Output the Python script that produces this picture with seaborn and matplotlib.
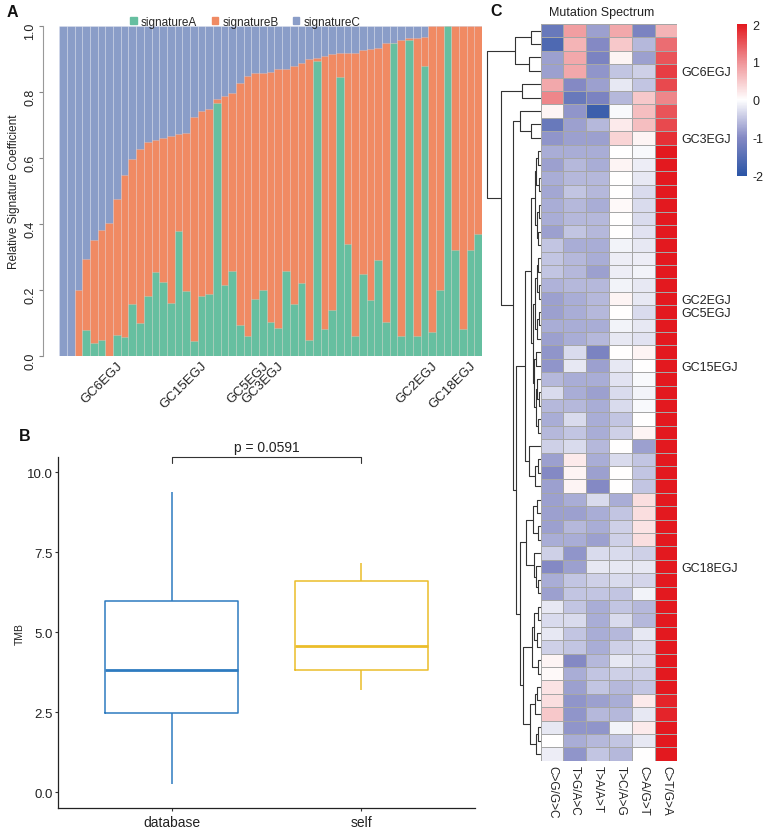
import matplotlib

matplotlib.use("Agg")
import matplotlib.pyplot as plt
import pandas as pd
import seaborn as sns
from matplotlib.colors import LinearSegmentedColormap
from matplotlib.patches import Patch

# ---------------- data ----------------
# panel A: relative signature coefficients per sample (left -> right)
sig_a = [0, 0, 0, 0.078, 0.04, 0.047, 0, 0.065, 0.057, 0.158,
         0.10, 0.183, 0.256, 0.224, 0.161, 0.38, 0.196, 0.044, 0.183, 0.189,
         0.766, 0.216, 0.259, 0.095, 0.062, 0.173, 0.199, 0.103, 0.085, 0.259,
         0.158, 0.221, 0.047, 0.894, 0.083, 0.138, 0.844, 0.34, 0.062, 0.249,
         0.171, 0.291, 0.103, 0.948, 0.06, 0.958, 0.06, 0.879, 0.073, 0.2,
         1.0, 0.322, 0.082, 0.32, 0.37]
sig_b = [0, 0, 0.199, 0.216, 0.313, 0.335, 0.403, 0.411, 0.491, 0.439,
         0.527, 0.464, 0.399, 0.438, 0.506, 0.292, 0.479, 0.679, 0.559, 0.561,
         0.014, 0.572, 0.537, 0.732, 0.785, 0.684, 0.660, 0.758, 0.784, 0.612,
         0.721, 0.666, 0.852, 0.010, 0.826, 0.776, 0.073, 0.579, 0.857, 0.678,
         0.760, 0.643, 0.844, 0.002, 0.898, 0.007, 0.905, 0.089, 0.927, 0.800,
         0.0, 0.678, 0.918, 0.680, 0.630]
sig_c = [1.0, 1.0, 0.801, 0.706, 0.647, 0.618, 0.597, 0.524, 0.452, 0.403,
         0.373, 0.353, 0.345, 0.338, 0.333, 0.328, 0.325, 0.277, 0.258, 0.25,
         0.22, 0.212, 0.204, 0.173, 0.153, 0.143, 0.141, 0.139, 0.131, 0.129,
         0.121, 0.113, 0.101, 0.096, 0.091, 0.086, 0.083, 0.081, 0.081, 0.073,
         0.069, 0.066, 0.053, 0.05, 0.042, 0.035, 0.035, 0.032, 0, 0,
         0, 0, 0, 0, 0]
bar_label_pos = [8, 19, 27, 29, 49, 54]
bar_label_names = ["GC6EGJ", "GC15EGJ", "GC5EGJ", "GC3EGJ", "GC2EGJ", "GC18EGJ"]

# panel B: TMB five-number summaries
tmb_database = [0.26, 2.48, 3.82, 5.99, 9.375]
tmb_self = [3.2, 3.82, 4.56, 6.61, 7.16]
p_text = "p = 0.0591"

# panel C: mutation spectrum z-scores (rows top -> bottom)
spectrum_cols = ["C>G/G>C", "T>G/A>C", "T>A/A>T", "T>C/A>G", "C>A/G>T", "C>T/G>A"]
cg_gc = [-1.3, -1.6, -0.8, -0.8, 0.8, 1.1, 0.1, -1.3, -0.9, -0.7,
         -0.8, -0.7, -0.75, -0.7, -0.7, -0.8, -0.5, -0.5, -0.5, -0.65,
         -0.8, -0.8, -0.7, -0.8, -0.9, -0.9, -0.6, -0.3, -0.6, -0.7,
         -0.6, -0.4, -0.8, -1.0, -0.8, -0.8, -0.8, -0.8, -0.7, -0.4,
         -1.0, -0.7, -0.8, -0.2, -0.3, -0.2, -0.4, 0.1, 0.05, 0.25,
         0.3, 0.5, -0.2, 0.0, -0.15]
tg_ac = [0.9, 0.7, 0.8, 0.8, -1.0, -1.3, -0.9, -0.8, -0.8, -0.7,
         -0.6, -0.6, -0.5, -0.6, -0.6, -0.5, -0.7, -0.6, -0.6, -0.6,
         -0.7, -0.7, -0.7, -0.7, -0.3, -0.2, -0.7, -0.7, -0.6, -0.3,
         -0.5, -0.3, 0.2, 0.1, 0.1, -0.7, -0.8, -0.6, -0.7, -0.9,
         -0.8, -0.5, -0.5, -0.5, -0.3, -0.5, -0.5, -1.0, -0.7, -0.8,
         -0.9, -0.9, -0.9, -0.7, -0.9]
ta_at = [-0.8, -1.0, -1.1, -0.9, -0.8, -1.1, -1.8, -0.6, -0.8, -0.7,
         -0.7, -0.6, -0.6, -0.7, -0.6, -0.6, -0.7, -0.7, -0.8, -0.6,
         -0.6, -0.6, -0.7, -0.6, -1.1, -0.8, -0.7, -0.8, -0.7, -0.7,
         -0.7, -0.6, -0.7, -0.8, -1.0, -0.3, -0.7, -0.7, -0.8, -0.3,
         -0.2, -0.4, -0.5, -0.7, -0.7, -0.7, -0.7, -0.6, -0.5, -0.5,
         -0.8, -0.6, -0.9, -0.6, -0.5]
tc_ag = [0.8, 0.5, 0.1, -0.5, -0.2, -0.6, -0.05, 0.2, 0.4, 0.0,
         0.1, 0.0, 0.0, 0.05, 0.0, 0.0, -0.1, -0.15, -0.15, -0.1,
         0.1, 0.0, -0.1, -0.2, 0.0, -0.2, -0.25, -0.3, -0.3, -0.5,
         -0.4, 0.0, -0.3, 0.0, 0.0, -0.7, -0.5, -0.4, -0.4, -0.3,
         -0.2, -0.3, -0.5, -0.5, -0.3, -0.6, -0.4, -0.2, -0.4, -0.6,
         -0.7, -0.6, -0.1, -0.5, -0.6]
ca_gt = [-1.1, -0.6, -0.8, -0.4, -0.5, 0.5, 0.6, 0.6, 0.1, -0.05,
         -0.15, -0.2, -0.3, -0.3, -0.3, -0.25, -0.2, -0.15, -0.1, -0.2,
         -0.2, -0.3, -0.2, -0.25, 0.1, 0.0, -0.05, -0.1, -0.05, 0.0,
         0.1, -0.8, -0.5, -0.5, -0.5, 0.3, 0.3, 0.25, 0.3, -0.4,
         -0.2, -0.35, -0.1, -0.6, -0.6, -0.2, -0.3, -0.3, -0.4, -0.5,
         0.2, -0.2, 0.2, -0.2, 0.0]
ct_ga = [0.7, 1.3, 1.5, 1.7, 1.6, 1.1, 1.5, 1.6, 1.8, 2.0,
         2.0, 2.0, 2.0, 2.0, 2.0, 2.0, 2.0, 2.0, 2.0, 2.0,
         2.0, 2.0, 2.0, 2.0, 2.0, 2.0, 2.0, 2.0, 2.0, 2.0,
         2.0, 2.0, 2.0, 2.0, 2.0, 2.0, 2.0, 2.0, 2.0, 2.0,
         2.0, 2.0, 2.0, 2.0, 2.0, 2.0, 2.0, 2.0, 2.0, 2.0,
         1.9, 1.9, 2.0, 2.0, 2.0]
row_label_pos = [3, 8, 20, 21, 25, 40]
row_label_names = ["GC6EGJ", "GC3EGJ", "GC2EGJ", "GC5EGJ", "GC15EGJ", "GC18EGJ"]

# row dendrogram: (left, right, height); ints are heatmap rows
tree = (
    ((0, 1, 10.3), (2, 3, 12.0), 26.3),
    ((4, 5, 18.7),
     ((6, (7, 8, 10.3), 21.0),
      (((((((9, 10, 3.0), (11, 12, 2.5), 5.0), ((13, 14, 2.0), (15, 16, 3.0), 4.5), 6.0),
          ((((17, 18, 3.0), (19, 20, 2.0), 4.5), ((21, 22, 2.5), 23, 4.0), 6.5),
           ((24, 25, 5.0), ((26, (27, 28, 2.5), 4.0), (29, 30, 3.5), 5.5), 7.0), 8.5), 10.3),
         (31, ((32, 33, 3.0), 34, 6.0), 12.0), 16.3),
        ((((35, 36, 4.0), (37, 38, 3.0), 8.0), (39, (40, (41, 42, 3.0), 5.0), 7.0), 15.3),
         ((((43, 44, 3.5), (45, 46, 4.0), 7.0), (47, 48, 3.5), 9.0),
          (((49, 50, 4.0), 51, 6.0), ((52, 53, 3.5), 54, 5.0), 11.0), 17.7), 21.0), 25.3)),
      27.7), 39.7),
    53.7)

# ---------------- style ----------------
sns.set_theme(style="ticks")
plt.rcParams["font.family"] = ["Liberation Sans", "DejaVu Sans"]
plt.rcParams["axes.unicode_minus"] = False
TEXT = "#222222"
SIG_COLORS = ["#66BFA0", "#F08A63", "#8A9DC8"]
BOX_COLORS = ["#2E7BC0", "#EBBD2A"]

W, H = 767, 829
fig = plt.figure(figsize=(W / 100, H / 100), dpi=100)


def px_rect(x0, y0, x1, y1):
    return [x0 / W, 1 - y1 / H, (x1 - x0) / W, (y1 - y0) / H]


# ---------------- panel A ----------------
ax_a = fig.add_axes(px_rect(59.3, 27, 482, 357))
samples = [f"s{i:02d}" for i in range(len(sig_a))]
sig_df = pd.DataFrame({"sample": samples, "A": sig_a, "B": sig_b, "C": sig_c})
sig_df["AB"] = sig_df["A"] + sig_df["B"]
sig_df["ABC"] = sig_df["AB"] + sig_df["C"]
for col, color in zip(["ABC", "AB", "A"], SIG_COLORS[::-1]):
    sns.barplot(data=sig_df, x="sample", y=col, color=color, width=1.0, saturation=1,
                edgecolor=(1, 1, 1, 0.35), linewidth=0.4, ax=ax_a)
ax_a.set_xlim(-0.5, len(samples) - 0.5)
ax_a.set_ylim(0, 1)
ax_a.set_xlabel("")
ax_a.set_ylabel("Relative Signature Coefficient", fontsize=8.5, color=TEXT)
ax_a.yaxis.set_label_coords(-0.092, 0.5)
ax_a.set_yticks([0, 0.2, 0.4, 0.6, 0.8, 1.0], ["0.0", "0.2", "0.4", "0.6", "0.8", "1.0"])
ax_a.tick_params(axis="y", labelrotation=90, length=3, width=0.8, color="#888888",
                 labelsize=9, labelcolor=TEXT, pad=2)
for lab in ax_a.get_yticklabels():
    lab.set_va("center")
ax_a.set_xticks(bar_label_pos, bar_label_names, rotation=45, ha="right", fontsize=9.5, color=TEXT)
ax_a.tick_params(axis="x", length=0, pad=2)
for side in ("top", "right", "bottom"):
    ax_a.spines[side].set_visible(False)
ax_a.spines["left"].set_position(("outward", 11.5))
ax_a.spines["left"].set_color("#999999")
ax_a.spines["left"].set_linewidth(0.8)
handles = [Patch(color=c) for c in SIG_COLORS]
ax_a.legend(handles, ["signatureA", "signatureB", "signatureC"], loc="lower center",
            bbox_to_anchor=(0.44, 0.99), ncol=3, frameon=False, fontsize=8.5,
            handlelength=0.55, handleheight=0.55, handletextpad=0.35, columnspacing=1.2,
            borderaxespad=0, borderpad=0.1)

# ---------------- panel B ----------------
ax_b = fig.add_axes(px_rect(58, 458.3, 475, 809.3))
tmb_df = pd.DataFrame({
    "group": ["database"] * len(tmb_database) + ["self"] * len(tmb_self),
    "TMB": tmb_database + tmb_self,
})
sns.boxplot(data=tmb_df, x="group", y="TMB", hue="group", palette=BOX_COLORS, fill=False,
            width=0.7, linewidth=1.1, showcaps=False, whis=1.5, legend=False, ax=ax_b,
            medianprops={"linewidth": 2.0})
ax_b.set_xlim(-0.6, 1.6)
ax_b.set_ylim(-0.5, 10.47)
ax_b.set_yticks([0, 2.5, 5, 7.5, 10], ["0.0", "2.5", "5.0", "7.5", "10.0"])
ax_b.set_xlabel("")
ax_b.set_ylabel("TMB", fontsize=7.5, color=TEXT, labelpad=2)
ax_b.tick_params(axis="both", length=2.5, width=0.8, color="#333333", labelcolor=TEXT)
ax_b.tick_params(axis="y", labelsize=9.5, pad=1)
ax_b.tick_params(axis="x", labelsize=10, pad=2)
for side in ("top", "right"):
    ax_b.spines[side].set_visible(False)
for side in ("left", "bottom"):
    ax_b.spines[side].set_color("#222222")
    ax_b.spines[side].set_linewidth(0.9)
ax_b.plot([0, 0, 1, 1], [10.29, 10.47, 10.47, 10.29], color="#333333", lw=0.8, clip_on=False)
ax_b.text(0.5, 10.57, p_text, ha="center", va="bottom", fontsize=10, color=TEXT)

# ---------------- panel C ----------------
HM_TOP, HM_BOTTOM = 25, 761.7
ax_hm = fig.add_axes(px_rect(540.7, HM_TOP, 677.3, HM_BOTTOM))
cax = fig.add_axes(px_rect(736.7, 25, 746.7, 176.7))
spec_df = pd.DataFrame(dict(zip(spectrum_cols, [cg_gc, tg_ac, ta_at, tc_ag, ca_gt, ct_ga])))
row_labels = [""] * len(spec_df)
for pos, name in zip(row_label_pos, row_label_names):
    row_labels[pos] = name
cmap = LinearSegmentedColormap.from_list(
    "spectrum", ["#2B55A6", "#8489C4", "#FFFFFF", "#EF9397", "#E3191F"])
sns.heatmap(spec_df, ax=ax_hm, cbar_ax=cax, cmap=cmap, vmin=-2, vmax=2, linewidths=0.6,
            linecolor="#A6A6A6", xticklabels=spectrum_cols, yticklabels=row_labels)
ax_hm.yaxis.tick_right()
ax_hm.tick_params(axis="y", length=0, pad=3, labelsize=9, labelrotation=0, labelcolor=TEXT)
ax_hm.tick_params(axis="x", length=0, pad=3, labelsize=8.5, labelrotation=270, labelcolor=TEXT)
ax_hm.set_xlabel("")
ax_hm.set_ylabel("")
cbar = ax_hm.collections[0].colorbar
cbar.outline.set_visible(False)
cbar.set_ticks([-2, -1, 0, 1, 2])
cax.tick_params(length=0, labelsize=9, pad=4, labelcolor=TEXT)

# dendrogram of the heatmap rows
ax_d = fig.add_axes(px_rect(484, HM_TOP, 541, HM_BOTTOM))
ax_d.set_xlim(57, 0)
ax_d.set_ylim(len(spec_df), 0)
ax_d.axis("off")


def draw_tree(node):
    if isinstance(node, int):
        return node + 0.5, 0.0
    left, right, height = node
    y_l, h_l = draw_tree(left)
    y_r, h_r = draw_tree(right)
    ax_d.plot([h_l, height, height, h_r], [y_l, y_l, y_r, y_r], color="#333333", lw=0.8)
    return (y_l + y_r) / 2, height


draw_tree(tree)

fig.text(602 / W, 1 - 13 / H, "Mutation Spectrum", ha="center", va="center", fontsize=9, color=TEXT)

# panel letters
for letter, x, y in (("A", 7, 5), ("B", 19, 429), ("C", 490, 4)):
    fig.text(x / W, 1 - y / H, letter, ha="left", va="top", fontsize=11.5, fontweight="bold", color="#111111")

fig.savefig("out.png", dpi=100)
